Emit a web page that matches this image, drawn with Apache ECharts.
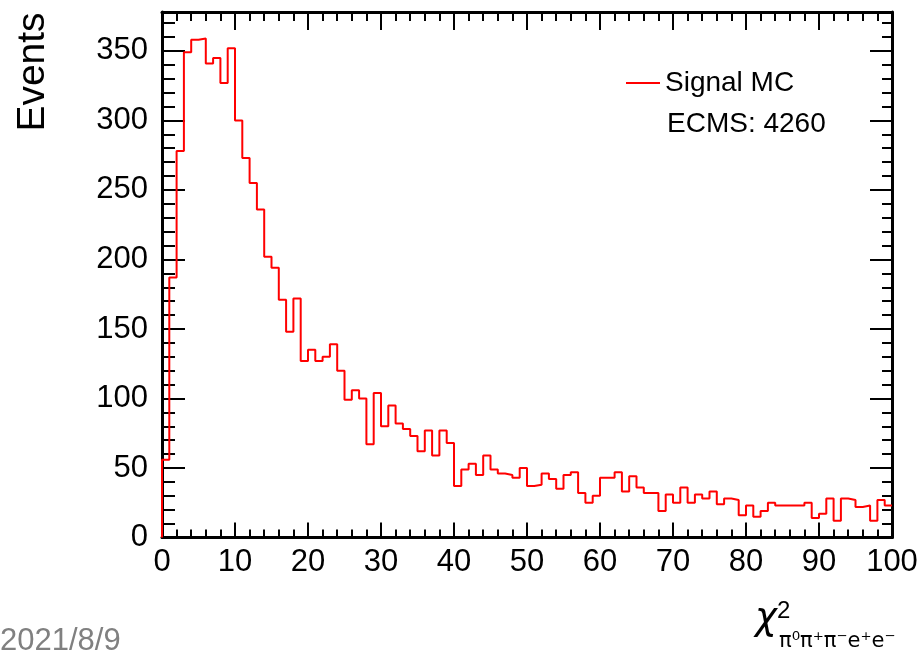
<!DOCTYPE html>
<html><head><meta charset="utf-8">
<script src="https://cdn.jsdelivr.net/npm/echarts@6/dist/echarts.min.js"></script>
<style>html,body{margin:0;padding:0;background:#fff}#c{width:924px;height:658px}</style>
</head><body><div id="c"></div>
<script>
// Histogram: 100 bins of width 1 from 0 to 100
const xMin = 0;
const binWidth = 1;
const counts = [
  56,187,278,349,358,359,341,345,327,352,
  300,273,255,236,202,194,171,148,172,127,
  135,127,130,139,120,99,106,100,67,104,
  80,95,82,78,73,62,77,59,77,68,
  37,49,53,45,59,49,46,45,43,50,
  37,38,46,42,35,45,47,32,25,30,
  43,43,47,33,44,36,32,32,19,31,
  25,36,25,31,28,33,24,28,27,16,
  23,15,19,25,23,23,23,23,25,14,
  17,28,12,28,27,22,23,12,27,23
];
const seriesName = 'Signal MC';
const yMajorTicks = [0,50,100,150,200,250,300,350];
const yMinorTicks = [0,10,20,30,40,50,60,70,80,90,100,110,120,130,140,150,160,170,180,190,200,210,220,230,240,250,260,270,280,290,300,310,320,330,340,350,360,370];
const xMajorTicks = [0,10,20,30,40,50,60,70,80,90,100];
const xMinorTicks = [0,2,4,6,8,10,12,14,16,18,20,22,24,26,28,30,32,34,36,38,40,42,44,46,48,50,52,54,56,58,60,62,64,66,68,70,72,74,76,78,80,82,84,86,88,90,92,94,96,98,100];
const xRange = [0, 100];
const yRange = [0, 378];

// step points: left edge of each bin, plus closing point at the right edge
const stepData = [[xMin, 0]];
counts.forEach((c, i) => stepData.push([xMin + i * binWidth, c]));
stepData.push([xMin + counts.length * binWidth, counts[counts.length - 1]]);

const FONT = 'Liberation Sans, Arial, Helvetica, sans-serif';
const GREEK = '"DejaVu Sans", sans-serif';
const blk = '#000';

function xAx(pos, ticks, len, showLine, showLabel) {
  return {
    type: 'value', position: pos, min: xRange[0], max: xRange[1],
    axisLine: { show: showLine, onZero: false, lineStyle: { color: blk, width: 3 } },
    axisTick: { show: true, inside: true, length: len, customValues: ticks, lineStyle: { color: blk, width: 2 } },
    axisLabel: showLabel ? { show: true, customValues: ticks, fontSize: 31, color: blk, fontFamily: FONT, margin: 9, hideOverlap: false } : { show: false },
    splitLine: { show: false }, minorTick: { show: false }
  };
}
function yAx(pos, ticks, len, showLine, showLabel) {
  return {
    type: 'value', position: pos, min: yRange[0], max: yRange[1],
    axisLine: { show: showLine, onZero: false, lineStyle: { color: blk, width: 3 } },
    axisTick: { show: true, inside: true, length: len, customValues: ticks, lineStyle: { color: blk, width: 2 } },
    axisLabel: showLabel ? { show: true, customValues: ticks, fontSize: 31, color: blk, fontFamily: FONT, margin: 14, hideOverlap: false } : { show: false },
    splitLine: { show: false }, minorTick: { show: false }
  };
}

const chart = echarts.init(document.getElementById('c'), null, { renderer: 'canvas' });
chart.setOption({
  animation: false,
  backgroundColor: '#fff',
  grid: { left: 162, right: 32, top: 12, bottom: 120.5, containLabel: false, outerBoundsMode: 'none' },
  xAxis: [
    xAx('bottom', xMajorTicks, 15, true, true),
    xAx('bottom', xMinorTicks, 8, false, false),
    xAx('top', xMajorTicks, 18, true, false),
    xAx('top', xMinorTicks, 9, false, false)
  ],
  yAxis: [
    yAx('left', yMajorTicks, 23, true, true),
    yAx('left', yMinorTicks, 13, false, false),
    yAx('right', yMajorTicks, 22, true, false),
    yAx('right', yMinorTicks, 10, false, false)
  ],
  legend: {
    left: 626, top: 69, padding: 0, icon: 'rect', itemWidth: 34, itemHeight: 2,
    textStyle: { fontSize: 28, color: blk, fontFamily: FONT },
    data: [seriesName]
  },
  series: [{
    name: seriesName, type: 'line', step: 'end', xAxisIndex: 0, yAxisIndex: 0,
    data: stepData, showSymbol: false, symbol: 'none',
    lineStyle: { color: '#ff0000', width: 2 }, itemStyle: { color: '#ff0000' },
    clip: true
  }],
  graphic: [
    { type: 'text', left: 667, top: 110, style: { text: 'ECMS: 4260', font: '28px ' + FONT, fill: blk } },
    { type: 'text', x: 33, y: 72, rotation: Math.PI / 2, style: { text: 'Events', font: '39px ' + FONT, fill: blk, align: 'center', verticalAlign: 'middle' } },
    { type: 'text', x: 0, y: 641, style: { text: '2021/8/9', font: '31px ' + FONT, fill: '#808080', align: 'left', verticalAlign: 'middle' } },
    { type: 'text', x: 755, y: 619, style: { text: 'χ', font: 'italic 37px ' + GREEK, fill: blk, align: 'left', verticalAlign: 'middle' } },
    { type: 'text', x: 777, y: 611.5, style: { text: '2', font: '24px ' + FONT, fill: blk, align: 'left', verticalAlign: 'middle' } },
    { type: 'text', x: 779, y: 642, style: { text: 'π⁰π⁺π⁻e⁺e⁻', font: '21px ' + GREEK, fill: blk, align: 'left', verticalAlign: 'middle' } }
  ]
});
</script></body></html>
